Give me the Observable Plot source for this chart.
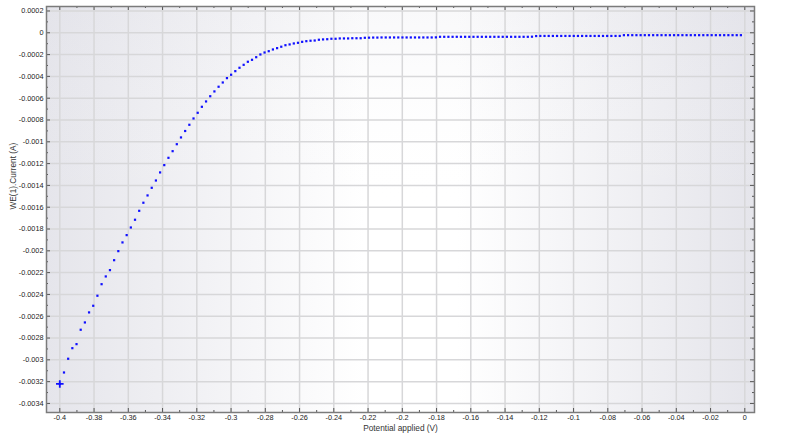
<!DOCTYPE html>
<html>
<head>
<meta charset="utf-8">
<script src="https://cdn.jsdelivr.net/npm/d3@7"></script>
<script src="https://cdn.jsdelivr.net/npm/@observablehq/plot@0.6"></script>
<style>
  html, body { margin: 0; padding: 0; background: #ffffff; }
  #chart { width: 800px; height: 439px; }
</style>
</head>
<body>
<div id="chart"></div>
<script>
// ---- Data ----
const potentials = [
  -0.40000,-0.39756,-0.39512,-0.39268,-0.39024,-0.38780,-0.38536,-0.38292,-0.38048,-0.37804,
  -0.37560,-0.37316,-0.37072,-0.36828,-0.36584,-0.36340,-0.36096,-0.35852,-0.35608,-0.35364,
  -0.35120,-0.34876,-0.34632,-0.34388,-0.34144,-0.33900,-0.33656,-0.33412,-0.33168,-0.32924,
  -0.32680,-0.32436,-0.32192,-0.31948,-0.31704,-0.31460,-0.31216,-0.30972,-0.30728,-0.30484,
  -0.30240,-0.29996,-0.29752,-0.29508,-0.29264,-0.29020,-0.28776,-0.28532,-0.28288,-0.28044,
  -0.27800,-0.27556,-0.27312,-0.27068,-0.26824,-0.26580,-0.26336,-0.26092,-0.25848,-0.25604,
  -0.25360,-0.25116,-0.24872,-0.24628,-0.24384,-0.24140,-0.23896,-0.23652,-0.23408,-0.23164,
  -0.22920,-0.22676,-0.22432,-0.22188,-0.21944,-0.21700,-0.21456,-0.21212,-0.20968,-0.20724,
  -0.20480,-0.20236,-0.19992,-0.19748,-0.19504,-0.19260,-0.19016,-0.18772,-0.18528,-0.18284,
  -0.18040,-0.17796,-0.17552,-0.17308,-0.17064,-0.16820,-0.16576,-0.16332,-0.16088,-0.15844,
  -0.15600,-0.15356,-0.15112,-0.14868,-0.14624,-0.14380,-0.14136,-0.13892,-0.13648,-0.13404,
  -0.13160,-0.12916,-0.12672,-0.12428,-0.12184,-0.11940,-0.11696,-0.11452,-0.11208,-0.10964,
  -0.10720,-0.10476,-0.10232,-0.09988,-0.09744,-0.09500,-0.09256,-0.09012,-0.08768,-0.08524,
  -0.08280,-0.08036,-0.07792,-0.07548,-0.07304,-0.07060,-0.06816,-0.06572,-0.06328,-0.06084,
  -0.05840,-0.05596,-0.05352,-0.05108,-0.04864,-0.04620,-0.04376,-0.04132,-0.03888,-0.03644,
  -0.03400,-0.03156,-0.02912,-0.02668,-0.02424,-0.02180,-0.01936,-0.01692,-0.01448,-0.01204,
  -0.00960,-0.00716,-0.00472,-0.00228
];
const currents = [
  -0.003221,-0.003116,-0.002990,-0.002893,-0.002856,-0.002724,-0.002657,-0.002565,-0.002504,-0.002412,
  -0.002306,-0.002235,-0.002177,-0.002086,-0.002003,-0.001923,-0.001856,-0.001786,-0.001715,-0.001633,
  -0.001559,-0.001492,-0.001422,-0.001355,-0.001281,-0.001214,-0.001147,-0.001086,-0.001022,-0.000960,
  -0.000901,-0.000844,-0.000786,-0.000734,-0.000679,-0.000630,-0.000582,-0.000538,-0.000495,-0.000456,
  -0.000416,-0.000385,-0.000352,-0.000321,-0.000294,-0.000266,-0.000248,-0.000224,-0.000199,-0.000181,
  -0.000169,-0.000153,-0.000141,-0.000128,-0.000114,-0.000107,-0.000098,-0.000092,-0.000083,-0.000077,
  -0.000073,-0.000071,-0.000064,-0.000061,-0.000059,-0.000055,-0.000055,-0.000052,-0.000052,-0.000052,
  -0.000050,-0.000050,-0.000050,-0.000046,-0.000045,-0.000044,-0.000044,-0.000043,-0.000043,-0.000043,
  -0.000043,-0.000043,-0.000043,-0.000043,-0.000043,-0.000043,-0.000043,-0.000043,-0.000043,-0.000043,
  -0.000042,-0.000037,-0.000037,-0.000037,-0.000037,-0.000037,-0.000037,-0.000037,-0.000037,-0.000037,
  -0.000037,-0.000037,-0.000037,-0.000037,-0.000037,-0.000037,-0.000037,-0.000037,-0.000037,-0.000037,
  -0.000037,-0.000037,-0.000037,-0.000036,-0.000030,-0.000029,-0.000029,-0.000029,-0.000029,-0.000029,
  -0.000029,-0.000029,-0.000029,-0.000029,-0.000029,-0.000029,-0.000029,-0.000029,-0.000029,-0.000029,
  -0.000029,-0.000029,-0.000029,-0.000029,-0.000029,-0.000022,-0.000022,-0.000022,-0.000022,-0.000022,
  -0.000022,-0.000022,-0.000022,-0.000022,-0.000022,-0.000022,-0.000022,-0.000022,-0.000022,-0.000022,
  -0.000022,-0.000022,-0.000022,-0.000022,-0.000022,-0.000022,-0.000022,-0.000022,-0.000022,-0.000022,
  -0.000022,-0.000022,-0.000022,-0.000022
];
const xTicks = [-0.4,-0.38,-0.36,-0.34,-0.32,-0.3,-0.28,-0.26,-0.24,-0.22,-0.2,-0.18,-0.16,-0.14,-0.12,-0.1,-0.08,-0.06,-0.04,-0.02,0];
const xMinor = [-0.39,-0.37,-0.35,-0.33,-0.31,-0.29,-0.27,-0.25,-0.23,-0.21,-0.19,-0.17,-0.15,-0.13,-0.11,-0.09,-0.07,-0.05,-0.03,-0.01];
const yTicks = [0.0002,0,-0.0002,-0.0004,-0.0006,-0.0008,-0.001,-0.0012,-0.0014,-0.0016,-0.0018,-0.002,-0.0022,-0.0024,-0.0026,-0.0028,-0.003,-0.0032,-0.0034];
const yMinor = [0.0001,-0.0001,-0.0003,-0.0005,-0.0007,-0.0009,-0.0011,-0.0013,-0.0015,-0.0017,-0.0019,-0.0021,-0.0023,-0.0025,-0.0027,-0.0029,-0.0031,-0.0033];
const xLabel = "Potential applied (V)";
const yLabel = "WE(1).Current (A)";

const data = potentials.map((v, i) => ({V: v, I: currents[i]}));
const firstPoint = [data[0]];

// ---- Layout ----
const W = 800, H = 439;
const mL = 46, mR = 46, mT = 6, mB = 27;
const innerW = W - mL - mR, innerH = H - mT - mB;
const fmt = d => String(d);

// gradient background mark
function background(index, scales, values, dim) {
  const svg = d3.create("svg:g");
  const id = "bgGrad";
  const defs = svg.append("defs");
  const lg = defs.append("linearGradient").attr("id", id).attr("x1", "0").attr("x2", "1").attr("y1", "0").attr("y2", "0");
  lg.append("stop").attr("offset", "0").attr("stop-color", "#e5e5eb");
  lg.append("stop").attr("offset", "0.45").attr("stop-color", "#ffffff");
  lg.append("stop").attr("offset", "0.58").attr("stop-color", "#ffffff");
  lg.append("stop").attr("offset", "1").attr("stop-color", "#e5e5eb");
  const vg = defs.append("linearGradient").attr("id", id + "v").attr("x1", "0").attr("x2", "0").attr("y1", "0").attr("y2", "1");
  vg.append("stop").attr("offset", "0").attr("stop-color", "#dcdce4").attr("stop-opacity", 0.18);
  vg.append("stop").attr("offset", "0.5").attr("stop-color", "#ffffff").attr("stop-opacity", 0);
  const x0 = dim.marginLeft, y0 = dim.marginTop;
  const w = dim.width - dim.marginLeft - dim.marginRight;
  const h = dim.height - dim.marginTop - dim.marginBottom;
  svg.append("rect").attr("x", x0).attr("y", y0).attr("width", w).attr("height", h).attr("fill", `url(#${id})`);
  svg.append("rect").attr("x", x0).attr("y", y0).attr("width", w).attr("height", h).attr("fill", `url(#${id}v)`);
  return svg.node();
}

// thin plus symbol
const thinPlus = {
  draw(ctx, size) {
    const r = Math.sqrt(size / Math.PI);
    ctx.moveTo(-r, 0); ctx.lineTo(r, 0);
    ctx.moveTo(0, -r); ctx.lineTo(0, r);
  }
};

const tickColor = "#555";
const gridStyle = {stroke: "#d7d7d9", strokeOpacity: 1, strokeWidth: 1.5};

const chart = Plot.plot({
  width: W, height: H,
  marginLeft: mL, marginRight: mR, marginTop: mT, marginBottom: mB,
  x: {domain: [-0.40777, 0.00566]},
  y: {domain: [-0.003483, 0.000241]},
  style: {fontFamily: "'Liberation Sans', Arial, sans-serif", fontSize: "7.3px", color: "#222", background: "transparent"},
  marks: [
    background,
    Plot.gridX(xTicks, gridStyle),
    Plot.gridY(yTicks, gridStyle),
    // bottom ticks (inward)
    Plot.tickX(xTicks, {x: d => d, insetTop: innerH - 4, stroke: tickColor, strokeWidth: 1}),
    Plot.tickX(xMinor, {x: d => d, insetTop: innerH - 2, stroke: tickColor, strokeWidth: 1}),
    // top ticks (inward)
    Plot.tickX(xTicks, {x: d => d, insetBottom: innerH - 4, stroke: tickColor, strokeWidth: 1}),
    Plot.tickX(xMinor, {x: d => d, insetBottom: innerH - 2, stroke: tickColor, strokeWidth: 1}),
    // left ticks (inward)
    Plot.tickY(yTicks, {y: d => d, insetRight: innerW - 4, stroke: tickColor, strokeWidth: 1}),
    Plot.tickY(yMinor, {y: d => d, insetRight: innerW - 2, stroke: tickColor, strokeWidth: 1}),
    // right ticks (inward)
    Plot.tickY(yTicks, {y: d => d, insetLeft: innerW - 4, stroke: tickColor, strokeWidth: 1}),
    Plot.tickY(yMinor, {y: d => d, insetLeft: innerW - 2, stroke: tickColor, strokeWidth: 1}),
    Plot.axisX({ticks: xTicks, tickSize: 0, tickPadding: 2.5, tickFormat: fmt, label: null}),
    Plot.axisY({ticks: yTicks, tickSize: 0, tickPadding: 3, tickFormat: fmt, label: null}),
    Plot.text([xLabel], {frameAnchor: "bottom", dy: 18.5, fontSize: 8.3, fill: "#333"}),
    Plot.text([yLabel], {frameAnchor: "left", dx: -33.5, rotate: -90, fontSize: 8.3, fill: "#333"}),
    Plot.frame({stroke: "#7b7b7b", strokeWidth: 1.5}),
    Plot.dot(data, {x: "V", y: "I", symbol: "square", r: 1.25, fill: "#1010ff", stroke: "none"}),
    Plot.dot(firstPoint, {x: "V", y: "I", symbol: thinPlus, r: 3.8, stroke: "#1010ff", strokeWidth: 1.8, fill: "none"})
  ]
});

document.getElementById("chart").appendChild(chart);
</script>
</body>
</html>
